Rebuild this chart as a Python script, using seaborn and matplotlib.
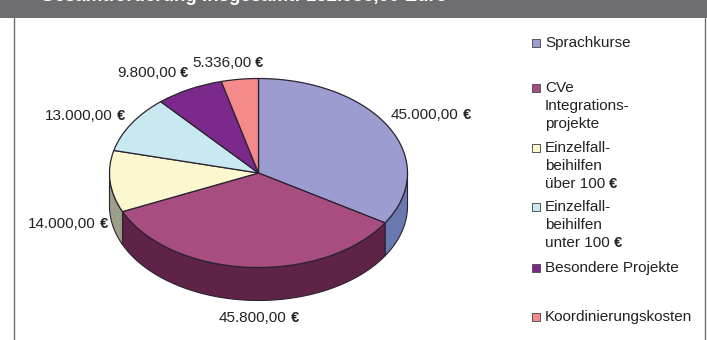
import numpy as np
import matplotlib
matplotlib.use("Agg")
import matplotlib.pyplot as plt
from matplotlib.patches import Rectangle
from matplotlib.lines import Line2D
import seaborn as sns

# Budget items
values = [45000, 45800, 14000, 13000, 9800, 5336]
value_labels = ["45.000,00", "45.800,00", "14.000,00", "13.000,00", "9.800,00", "5.336,00"]
legend_labels = ["Sprachkurse", "CVe\nIntegrations-\nprojekte", "Einzelfall-\nbeihilfen\nüber 100",
                 "Einzelfall-\nbeihilfen\nunter 100", "Besondere Projekte", "Koordinierungskosten"]
legend_euro = [False, False, True, True, False, False]
top_colors = ["#9C9CD0", "#A84D80", "#FBF8D0", "#C8E8F2", "#7B2A8B", "#F58A8A"]
side_colors = ["#6A78B0", "#5E2347", "#9C9F8C", "#87A0A8", "#52195C", "#A85C5C"]
banner_title = "Gesamtförderung insgesamt: 132.936,00 Euro"

# Layout in pixels of the 707x340 canvas
W, H = 707, 340
CX, CY, RX, RY, DEPTH = 258.5, 173.0, 149.0, 94.5, 33.0
label_px = [(391, 115), (219, 318), (28, 224), (45, 116), (117, 73), (192, 63)]
legend_rows = [43, 88, 148, 207, 268, 317]
legend_line = 18.2
VALUE_SIZE = 11.0
LEGEND_SIZE = 11.0

sns.set_theme(style="white")
plt.rcParams["font.family"] = ["Liberation Sans", "DejaVu Sans"]
palette = sns.color_palette(top_colors)
side_palette = sns.color_palette(side_colors)

fig = plt.figure(figsize=(W / 100, H / 100), dpi=100, facecolor="white")
ax = fig.add_axes([0, 0, 1, 1])


def to_data(x, y):
    return (x - CX) / RX, (CY - y) / RY


# Extruded rim below the front half of each slice
depth = DEPTH / RY
edges = 90 - np.cumsum([0] + values) / sum(values) * 360
for start, stop, col in zip(edges[:-1], edges[1:], side_palette):
    lo, hi = max(stop, -180), min(start, 0)
    if lo >= hi:
        continue
    t = np.radians(np.linspace(hi, lo, 80))
    xs = np.cos(t)
    ys = np.sin(t)
    ax.fill(np.r_[xs, xs[::-1]], np.r_[ys, ys[::-1] - depth], facecolor=col,
            edgecolor="#2c2230", linewidth=0.8, zorder=1)

# Top face of the pie
ax.pie(values, colors=palette, startangle=90, counterclock=False, radius=1, center=(0, 0),
       wedgeprops=dict(edgecolor="#2c2230", linewidth=0.9, zorder=2), frame=True)
ax.set_aspect("auto")
ax.set_xlim(-CX / RX, (W - CX) / RX)
ax.set_ylim((CY - H) / RY, CY / RY)
ax.set_xticks([])
ax.set_yticks([])
for s in ax.spines.values():
    s.set_visible(False)


def euro_text(x, y, text, size):
    t = ax.text(*to_data(x, y), text, fontsize=size, color="#222222", ha="left", va="center", zorder=5)
    ax.annotate(" €", xy=(1, 0), xycoords=t, xytext=(0, 0), textcoords="offset points",
                fontsize=size - 0.5, fontweight="bold", color="#222222", ha="left", va="bottom", zorder=5)
    return t


# Value labels
for (lx, ly), lab in zip(label_px, value_labels):
    euro_text(lx, ly, lab, VALUE_SIZE)

# Hand-spaced legend
for y, lab, col, has_euro in zip(legend_rows, legend_labels, palette, legend_euro):
    ax.add_patch(Rectangle(to_data(532, y + 4), 8 / RX, 8 / RY, facecolor=col, edgecolor="#555555",
                           linewidth=0.7, zorder=5))
    lines = lab.split("\n")
    for i, line in enumerate(lines):
        ly = y + i * legend_line
        if has_euro and i == len(lines) - 1:
            euro_text(545, ly, line, LEGEND_SIZE)
        else:
            ax.text(*to_data(545, ly), line, fontsize=LEGEND_SIZE, color="#222222", ha="left", va="center", zorder=5)

# Banner and frame
ax.add_patch(Rectangle(to_data(0, 17.5), W / RX, 17.5 / RY, facecolor="#6E6E70", edgecolor="none", zorder=6))
ax.text(*to_data(40, 0.5), banner_title, fontsize=13.5, fontweight="bold", color="white",
        ha="left", va="baseline", zorder=7)
for x in (13.5, 704.5):
    xd = to_data(x, 0)[0]
    ax.add_line(Line2D([xd, xd], [to_data(0, 17.5)[1], to_data(0, H)[1]], color="#707070", linewidth=1.0, zorder=6))

fig.savefig("out.png", dpi=100)
